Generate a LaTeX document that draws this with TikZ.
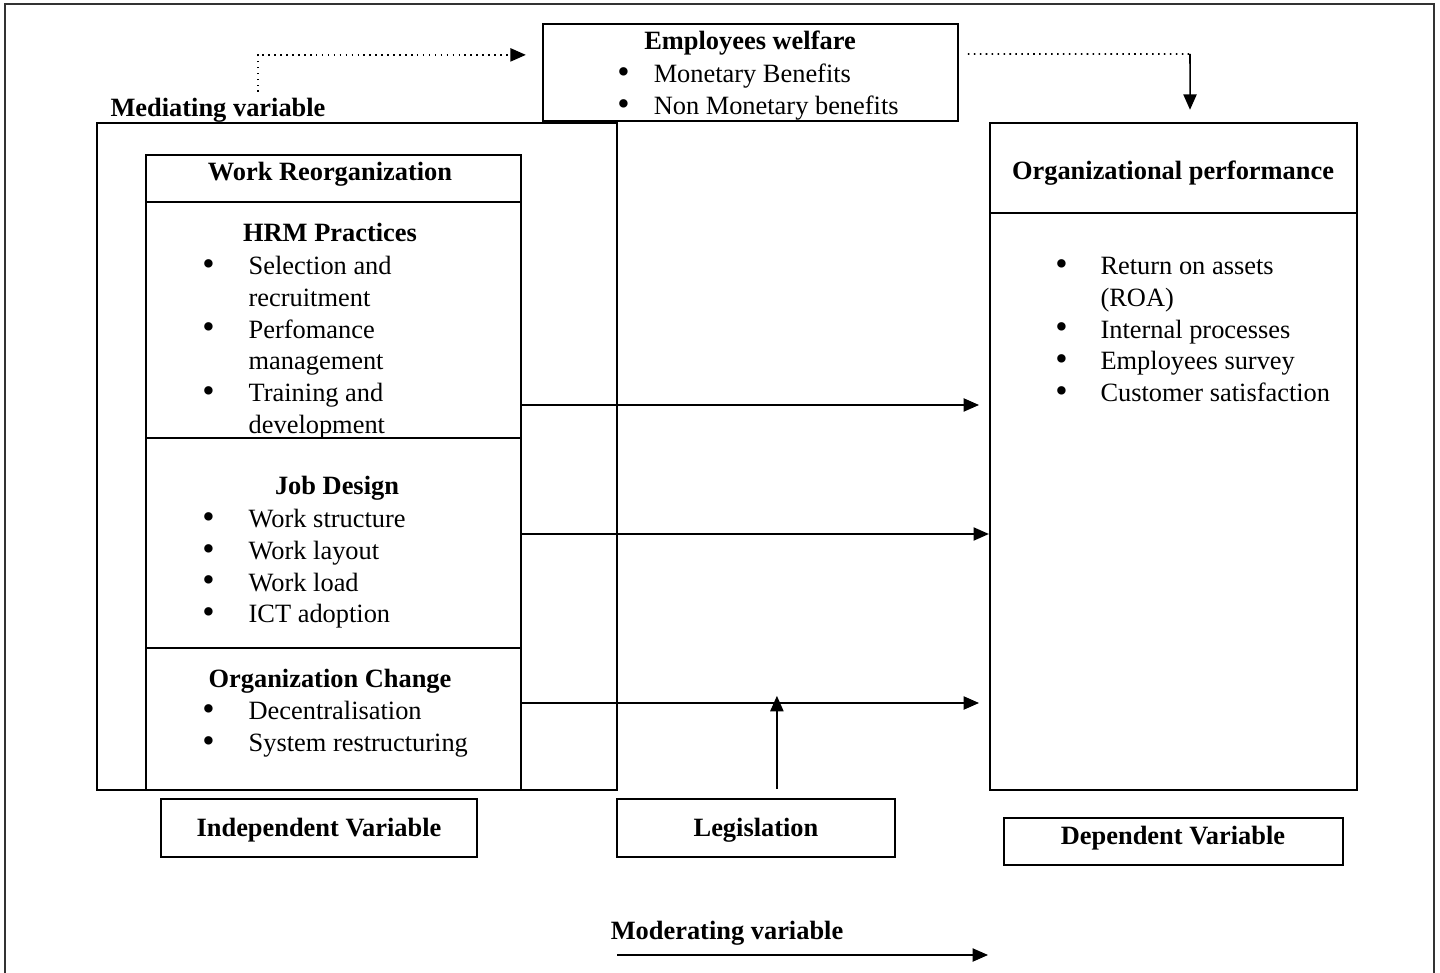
\documentclass[tikz,border=0pt]{standalone}
\usepackage{fontspec}
\setmainfont{Liberation Serif}
\usetikzlibrary{arrows.meta}
\newcommand{\bul}{\raisebox{-0.4pt}[0pt][0pt]{\fontsize{16}{14.5}\selectfont\textbullet}}
\tikzset{
  box/.style={draw, line width=1pt, inner sep=0pt},
  head/.style={font=\bfseries, anchor=base},
  list/.style={anchor=north west, inner sep=0pt, align=left},
  arr/.style={-{Triangle[length=7pt,width=6pt]}, line width=0.7pt},
  link/.style={dotted, line width=0.7pt}
}
\begin{document}
\fontsize{12}{14.5}\selectfont
\begin{tikzpicture}[x=0.4545pt,y=-0.4545pt]
\useasboundingbox (0,0) rectangle (1440,973);
\draw[line width=1.2pt, black!80] (5,990) -- (5,4) -- (1434,4) -- (1434,990);

% mediating variable
\node[box, minimum width=188.6pt, minimum height=44.1pt] (welfare) at (750.5,72.5) {};
\node[head] (wtitle) at (750,50) {Employees welfare};
\node[list] (wlist) at (617,59.5) {\begin{tabular}{@{}l@{\hspace{10.9pt}}l@{}}
\bul & Monetary Benefits\\
\bul & Non Monetary benefits
\end{tabular}};
\node[head] (medlabel) at (218,117) {Mediating variable};

% independent variable
\node[box, minimum width=236.3pt, minimum height=303.2pt] (indep) at (357,456.5) {};
\node[box, minimum width=170.4pt, minimum height=21.4pt] (reorg) at (333.5,178.5) {};
\node[box, minimum width=170.4pt, minimum height=107.3pt] (hrm) at (333.5,320) {};
\node[box, minimum width=170.4pt, minimum height=95.4pt] (jobd) at (333.5,543) {};
\node[box, minimum width=170.4pt, minimum height=64.5pt] (orgch) at (333.5,719) {};
\node[head] at (330,181) {Work Reorganization};
\node[head] at (330,242) {HRM Practices};
\node[list] (hrmlist) at (202,251.5) {\begin{tabular}{@{}l@{\hspace{15.4pt}}l@{}}
\bul & Selection and\\
 & recruitment\\
\bul & Perfomance\\
 & management\\
\bul & Training and\\
 & development
\end{tabular}};
\node[head] at (337,495) {Job Design};
\node[list] (joblist) at (202,504.5) {\begin{tabular}{@{}l@{\hspace{15.4pt}}l@{}}
\bul & Work structure\\
\bul & Work layout\\
\bul & Work load\\
\bul & ICT adoption
\end{tabular}};
\node[head] at (330,687) {Organization Change};
\node[list] (chglist) at (202,696.5) {\begin{tabular}{@{}l@{\hspace{15.4pt}}l@{}}
\bul & Decentralisation\\
\bul & System restructuring
\end{tabular}};

% dependent variable
\node[box, minimum width=166.8pt, minimum height=40.9pt] (perfhead) at (1173.5,168) {};
\node[box, minimum width=166.8pt, minimum height=262.2pt] (perf) at (1173.5,501.5) {};
\node[head] at (1173,180) {Organizational performance};
\node[list] (perflist) at (1055,251.5) {\begin{tabular}{@{}l@{\hspace{14.9pt}}l@{}}
\bul & Return on assets\\
 & (ROA)\\
\bul & Internal processes\\
\bul & Employees survey\\
\bul & Customer satisfaction
\end{tabular}};

% labels under the boxes
\node[box, minimum width=143.6pt, minimum height=26.4pt] (ivbox) at (319,828) {};
\node[head] at (319,836) {Independent Variable};
\node[box, minimum width=126.4pt, minimum height=26.4pt] (legis) at (756,828) {};
\node[head] at (756,836) {Legislation};
\node[box, minimum width=154.1pt, minimum height=21.4pt] (dvbox) at (1173.5,841.5) {};
\node[head] at (1173,844) {Dependent Variable};
\node[head] (modlabel) at (727,939) {Moderating variable};

% links
\coordinate (medtop) at (258,92);
\coordinate (turn) at (1190,54);
\coordinate (modstart) at (617,955);
\coordinate (modend) at (988,955);
\draw[link, -{Triangle[length=7pt,width=6pt]}] (medtop) |- ([xshift=-7.3pt,yshift=8pt]welfare.west);
\draw[link] ([xshift=4pt,yshift=8.4pt]welfare.east) -- (turn);
\draw[arr] (turn) -- ([xshift=7.5pt,yshift=5.5pt]perfhead.north);
\draw[arr, shorten >=4.5pt] (hrm.east |- 0,405) -- (perf.west |- 0,405);
\draw[arr] (jobd.east |- 0,534) -- (perf.west |- 0,534);
\draw[arr, shorten >=4.5pt] (orgch.east |- 0,703) -- (perf.west |- 0,703);
\draw[arr, shorten <=4pt] ([xshift=9.5pt]legis.north) -- ++(0,-102);
\draw[arr] (modstart) -- (modend);
\end{tikzpicture}
\end{document}
